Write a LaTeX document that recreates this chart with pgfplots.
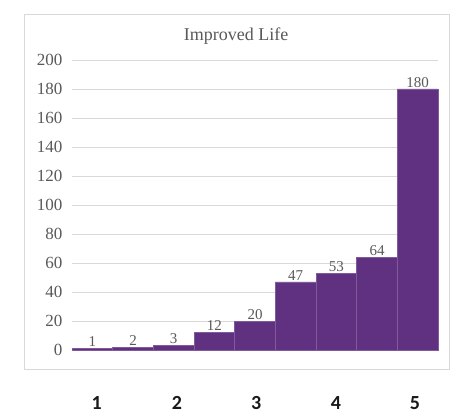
\documentclass[border=0pt]{standalone}
\usepackage{pgfplots}
\pgfplotsset{compat=1.18}
\usepackage{fontspec}
\setmainfont{Liberation Serif}
\newfontfamily\calib{Carlito}
\definecolor{barc}{HTML}{613181}
\definecolor{txtc}{HTML}{595959}
\definecolor{gridc}{HTML}{D9D9D9}
\begin{document}
\begin{tikzpicture}[x=1pt,y=1pt]
\useasboundingbox[fill=white] (0,0) rectangle (454,418);
\draw[gridc, line width=0.8pt, fill=white] (24,49) rectangle (449,404);
\node[txtc, font=\fontsize{18}{20}\selectfont] at (236,382) {Improved Life};
\begin{axis}[
  at={(72pt,68pt)}, anchor=south west,
  scale only axis, width=366pt, height=290pt,
  xmin=0, xmax=9, ymin=0, ymax=200,
  ytick={0,20,...,200},
  yticklabels={0,20,40,60,80,100,120,140,160,180,200},
  ymajorgrids, grid style={gridc, line width=0.8pt},
  axis line style={draw=none},
  axis x line*=bottom, axis y line*=left,
  major tick length=0pt,
  yticklabel style={txtc, font=\fontsize{17}{19}\selectfont, xshift=-6pt},
  xtick={0.61,2.58,4.53,6.49,8.43},
  xticklabels={1,2,3,4,5},
  xticklabel style={black!90, font=\calib\bfseries\fontsize{20}{22}\selectfont, yshift=-43pt},
  clip=false,
]
\addplot[ybar, bar width=1, fill=barc, draw=barc!80!white, line width=0.4pt,
  nodes near coords,
  every node near coord/.append style={txtc, font=\fontsize{15}{16}\selectfont, inner sep=1.5pt},
  /pgf/number format/assume math mode=true]
  coordinates {(0.5,1) (1.5,2) (2.5,3) (3.5,12) (4.5,20) (5.5,47) (6.5,53) (7.5,64) (8.5,180)};
\end{axis}
\end{tikzpicture}
\end{document}
